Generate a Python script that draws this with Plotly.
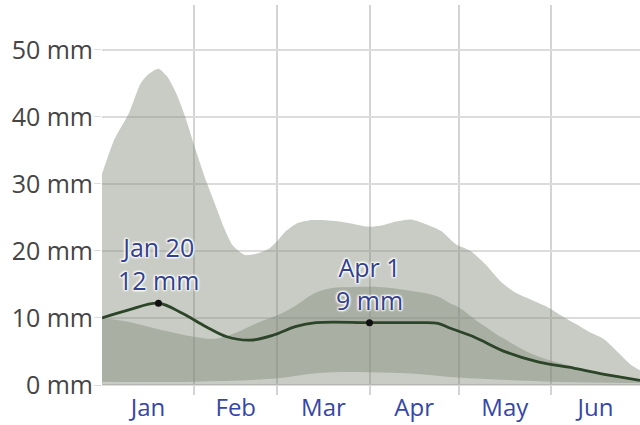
import plotly.graph_objects as go

# ---- data ----
p90_dates = ["2021-01-01","2021-01-05","2021-01-10","2021-01-14","2021-01-17","2021-01-20","2021-01-23",
             "2021-01-26","2021-01-29","2021-02-01","2021-02-05","2021-02-08","2021-02-11","2021-02-14",
             "2021-02-18","2021-02-22","2021-02-26","2021-03-01","2021-03-04","2021-03-08","2021-03-12",
             "2021-03-17","2021-03-22","2021-03-27","2021-04-01","2021-04-05","2021-04-10","2021-04-15",
             "2021-04-20","2021-04-25","2021-04-30","2021-05-05","2021-05-10","2021-05-15","2021-05-20",
             "2021-05-25","2021-05-31","2021-06-04","2021-06-09","2021-06-14","2021-06-19","2021-06-24",
             "2021-06-28","2021-07-01"]
p90_vals = [31.5,36.5,40.5,45.0,46.5,47.2,46.0,
            43.5,40.0,35.8,30.5,27.0,23.5,20.8,
            19.4,19.6,20.3,21.5,23.0,24.2,24.6,
            24.6,24.4,24.0,23.6,23.8,24.4,24.7,
            24.0,23.0,21.0,20.0,18.0,15.5,13.8,
            12.8,11.6,10.5,9.2,7.9,6.8,4.7,
            3.0,2.2]

p10_dates = ["2021-01-01","2021-07-01"]
p10_vals = [0.0,0.0]

p75_dates = ["2021-01-01","2021-01-10","2021-01-21","2021-02-01","2021-02-08","2021-02-15","2021-02-23",
             "2021-03-01","2021-03-07","2021-03-14","2021-03-20","2021-03-25","2021-04-05","2021-04-17",
             "2021-04-24","2021-04-28","2021-05-01","2021-05-08","2021-05-17","2021-05-28","2021-06-09",
             "2021-06-20","2021-07-01"]
p75_vals = [10.0,9.4,8.2,7.2,6.9,7.8,9.4,
            10.4,11.8,13.8,14.5,14.6,14.6,13.9,
            13.2,12.2,11.6,9.3,6.7,4.2,2.7,
            1.5,0.7]

p25_dates = ["2021-01-01","2021-02-01","2021-03-01","2021-03-15","2021-04-01","2021-04-15","2021-04-28",
             "2021-05-15","2021-06-01","2021-07-01"]
p25_vals = [0.5,0.5,1.0,1.8,1.9,1.7,1.2,0.8,0.5,0.3]

mean_dates = ["2021-01-01","2021-01-10","2021-01-20","2021-01-28","2021-02-05","2021-02-12","2021-02-20",
              "2021-02-28","2021-03-07","2021-03-14","2021-04-01","2021-04-17","2021-04-24","2021-04-28",
              "2021-05-06","2021-05-17","2021-05-28","2021-06-09","2021-06-20","2021-07-01"]
mean_vals = [10.0,11.2,12.2,10.7,8.7,7.2,6.7,
             7.5,8.7,9.3,9.3,9.3,9.2,8.5,
             7.2,4.9,3.4,2.5,1.5,0.7]

mark_dates = ["2021-01-20","2021-04-01"]
mark_vals = [12.2,9.3]
mark_labels = ["Jan 20<br>12 mm","Apr 1<br>9 mm"]
label_y = [18.1, 15.1]

y_ticks = [0,10,20,30,40,50]
y_tick_text = ["0 mm","10 mm","20 mm","30 mm","40 mm","50 mm"]

# ---- styles ----
band_outer = "rgba(125,134,115,0.42)"
band_inner = "rgba(120,128,112,0.38)"
line_col = "#2c4529"
font_fam = "Open Sans, Noto Sans, sans-serif"
blue = "#33408f"

fig = go.Figure()
fig.add_trace(go.Scatter(x=p10_dates, y=p10_vals, mode="lines", line=dict(width=0),
                         hoverinfo="skip", showlegend=False))
fig.add_trace(go.Scatter(x=p90_dates, y=p90_vals, mode="lines", line=dict(width=0, shape="spline", smoothing=0.6),
                         fill="tonexty", fillcolor=band_outer, hoverinfo="skip", showlegend=False))
fig.add_trace(go.Scatter(x=p25_dates, y=p25_vals, mode="lines", line=dict(width=0, shape="spline"),
                         hoverinfo="skip", showlegend=False))
fig.add_trace(go.Scatter(x=p75_dates, y=p75_vals, mode="lines", line=dict(width=0, shape="spline"),
                         fill="tonexty", fillcolor=band_inner, hoverinfo="skip", showlegend=False))
fig.add_trace(go.Scatter(x=mean_dates, y=mean_vals, mode="lines",
                         line=dict(color=line_col, width=2.8, shape="spline"),
                         showlegend=False))
fig.add_trace(go.Scatter(x=mark_dates, y=mark_vals, mode="markers",
                         marker=dict(color="#111111", size=7), showlegend=False))

shadow = "1px 1px 2px white, -1px -1px 2px white, 1px -1px 2px white, -1px 1px 2px white"
for d, txt, yy in zip(mark_dates, mark_labels, label_y):
    fig.add_annotation(x=d, y=yy, text=txt, showarrow=False, xanchor="center", yanchor="middle",
                       font=dict(family=font_fam, size=25, color=blue, shadow=shadow))

fig.update_layout(
    width=640, height=425,
    margin=dict(l=102, r=0, t=5, b=30),
    paper_bgcolor="white", plot_bgcolor="white",
    font=dict(family=font_fam),
)
fig.update_xaxes(
    type="date", range=["2021-01-01", "2021-07-01"],
    dtick="M1", tick0="2021-01-01", tickformat="%b", ticklabelmode="period",
    showgrid=True, gridcolor="#d4d4d4", gridwidth=1.5,
    ticks="", showline=False, zeroline=False, automargin=False,
    ticklabelstandoff=-4,
    tickfont=dict(size=24, color="#3646a8"),
)
fig.update_yaxes(
    range=[-1.49, 56.7], tickvals=y_ticks, ticktext=y_tick_text,
    showgrid=True, gridcolor="#dcdcdc", gridwidth=1.5,
    ticks="outside", ticklen=7, tickcolor="#dcdcdc",
    showline=False, zeroline=False, automargin=False,
    ticklabelstandoff=-4,
    tickfont=dict(size=25, color="#454545"),
)

fig.write_html("out.html", config={"displayModeBar": False},
               post_script="document.body.style.margin='0px';")
